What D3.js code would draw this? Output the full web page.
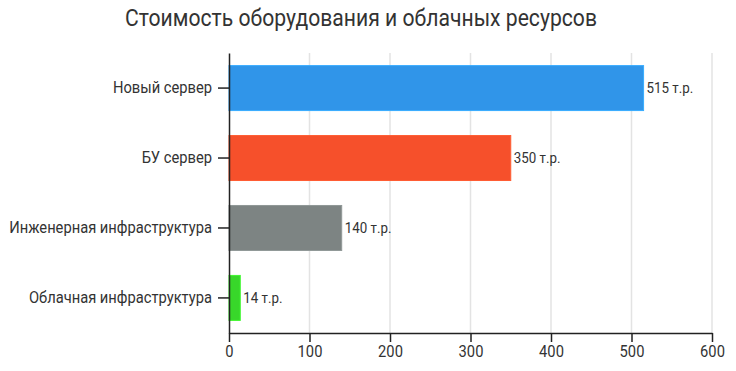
<!DOCTYPE html>
<html>
<head>
<meta charset="utf-8">
<script src="https://cdn.jsdelivr.net/npm/d3@7"></script>
<style>
    body { margin: 0; background: #fff; }
    svg text { font-family: Roboto, "Noto Sans", sans-serif; fill: #333; }
    .grid line { stroke: #e3e3e3; stroke-width: 1.5; }
    .axis path, .axis line { stroke: #222; stroke-width: 1.5; }
</style>
</head>
<body>
<svg id="chart" width="736" height="371"></svg>
<script>
var categories = ['Новый сервер', 'БУ сервер', 'Инженерная инфраструктура', 'Облачная инфраструктура'];
var values = [515, 350, 140, 14];
var colors = ['#3095e9', '#f6502b', '#7d8483', '#38d72a'];
var xTicks = [0, 100, 200, 300, 400, 500, 600];
var unit = ' т.р.';

var svg = d3.select('#chart'),
    margin = {top: 53, right: 24, bottom: 38, left: 229},
    width = +svg.attr('width') - margin.left - margin.right,
    height = +svg.attr('height') - margin.top - margin.bottom;

// the original font is a condensed face, squeeze texts horizontally
var squeeze = 0.92;
function condense(sel) {
    sel.each(function () {
        var t = d3.select(this);
        var x = +t.attr('x') || 0;
        t.attr('x', x / squeeze).attr('transform', 'scale(' + squeeze + ',1)');
    });
}

svg.append('text')
    .attr('x', 361)
    .attr('y', 26)
    .attr('text-anchor', 'middle')
    .style('font-size', '23px')
    .text('Стоимость оборудования и облачных ресурсов')
    .call(condense);

var x = d3.scaleLinear().domain([0, 600]).range([0, 483]);
var y = d3.scaleBand().domain(categories).range([0, height]).paddingInner(0.357).paddingOuter(0.18);

var g = svg.append('g')
    .attr('transform', 'translate(' + margin.left + ',' + margin.top + ')');

// vertical grid
g.append('g')
    .attr('class', 'grid')
    .selectAll('line')
    .data(xTicks.slice(1))
    .enter().append('line')
    .attr('x1', function (d) { return x(d); })
    .attr('x2', function (d) { return x(d); })
    .attr('y1', 0)
    .attr('y2', height);

g.selectAll('.bar')
    .data(values)
    .enter().append('rect')
    .attr('class', 'bar')
    .attr('x', x(0))
    .attr('y', function (d, i) { return y(categories[i]); })
    .attr('width', function (d) { return x(d) - x(0); })
    .attr('height', y.bandwidth())
    .style('fill', function (d, i) { return colors[i]; })
    .style('stroke', function (d, i) { return d3.rgb(colors[i]).brighter(0.4); })
    .style('stroke-width', 1);

g.selectAll('.value')
    .data(values)
    .enter().append('text')
    .attr('class', 'value')
    .attr('x', function (d) { return x(d) + 3; })
    .attr('y', function (d, i) { return y(categories[i]) + y.bandwidth() / 2; })
    .attr('dy', '0.35em')
    .style('font-size', '14.5px')
    .text(function (d) { return d + unit; })
    .call(condense);

var xAxis = g.append('g')
    .attr('class', 'axis')
    .attr('transform', 'translate(0,' + height + ')')
    .call(d3.axisBottom(x).tickValues(xTicks).tickSize(9).tickSizeOuter(0).tickPadding(4));

var yAxis = g.append('g')
    .attr('class', 'axis')
    .call(d3.axisLeft(y).tickSize(11).tickSizeOuter(0).tickPadding(6));

svg.selectAll('.axis text')
    .style('font-size', '16px')
    .style('font-family', 'Roboto, "Noto Sans", sans-serif')
    .style('fill', '#333')
    .call(condense);
</script>
</body>
</html>
